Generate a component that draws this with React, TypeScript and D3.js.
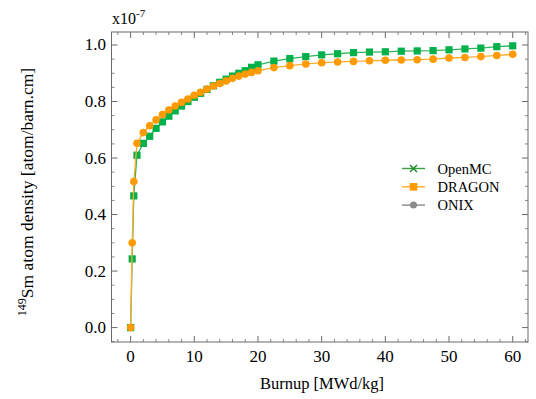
import React from "react";
import * as d3 from "d3";

const burnup = [0, 0.25, 0.5, 1, 2, 3, 4, 5, 6, 7, 8, 9, 10, 11, 12, 13, 14, 15, 16, 17, 18, 19, 20, 22.5, 25, 27.5, 30, 32.5, 35, 37.5, 40, 42.5, 45, 47.5, 50, 52.5, 55, 57.5, 60];
const openmc = [0, 0.243, 0.466, 0.61, 0.652, 0.677, 0.705, 0.728, 0.748, 0.767, 0.784, 0.8, 0.815, 0.829, 0.843, 0.856, 0.868, 0.879, 0.89, 0.9, 0.909, 0.921, 0.93, 0.943, 0.952, 0.959, 0.965, 0.969, 0.973, 0.975, 0.976, 0.978, 0.979, 0.98, 0.983, 0.986, 0.989, 0.994, 0.997];
const dragon = [0, 0.3, 0.517, 0.652, 0.69, 0.714, 0.735, 0.754, 0.77, 0.784, 0.797, 0.809, 0.822, 0.833, 0.844, 0.855, 0.864, 0.873, 0.882, 0.89, 0.897, 0.903, 0.909, 0.92, 0.927, 0.933, 0.937, 0.94, 0.942, 0.944, 0.946, 0.947, 0.948, 0.95, 0.954, 0.956, 0.959, 0.963, 0.967];
const xTicks = [0, 10, 20, 30, 40, 50, 60];
const yTicks = [0, 0.2, 0.4, 0.6, 0.8, 1.0];
const legendLabels = ["OpenMC", "DRAGON", "ONIX"];

const W = 536, H = 399;
const FONT = "'Liberation Serif', 'DejaVu Serif', serif";
const GREEN = "#00b04a";
const GREEN_LINE = "#33b35c";
const ORANGE = "#ff9a00";
const ORANGE_LINE = "#ffab2e";
const GRAY = "#8a8a8a";
const FRAME = "#6a6a6a";

export default function App() {
  const x = d3.scaleLinear().domain([-3, 62.4]).range([111.5, 528]);
  const y = d3.scaleLinear().domain([-0.051, 1.046]).range([342, 32]);
  const [x0, x1] = x.range();
  const [y0, y1] = y.range();

  const line = d3.line<number>().x((_, i) => x(burnup[i])).y((d) => y(d));

  const xMinor = d3.range(-2, 63, 2).filter((v) => v % 10 !== 0);
  const yMinor = d3.range(-0.05, 1.04, 0.05).map((v) => +v.toFixed(2)).filter((v) => Math.abs((v * 10) % 2) > 0.01 && Math.abs((v * 10) % 2 - 2) > 0.01);

  const MAJ = 6, MIN = 3;

  return (
    <svg width={W} height={H} style={{ position: "absolute", left: 0, top: 0, background: "#fff" }} fontFamily={FONT}>
      <rect x={x0} y={y1} width={x1 - x0} height={y0 - y1} fill="none" stroke={FRAME} strokeWidth={1} />
      {xTicks.map((t) => (
        <g key={"xt" + t}>
          <line x1={x(t)} x2={x(t)} y1={y0} y2={y0 - MAJ} stroke={FRAME} />
          <line x1={x(t)} x2={x(t)} y1={y1} y2={y1 + MAJ} stroke={FRAME} />
          <text x={x(t)} y={362} textAnchor="middle" fontSize={17} fill="#000">{t}</text>
        </g>
      ))}
      {xMinor.map((t) => (
        <g key={"xm" + t}>
          <line x1={x(t)} x2={x(t)} y1={y0} y2={y0 - MIN} stroke={FRAME} strokeWidth={0.8} />
          <line x1={x(t)} x2={x(t)} y1={y1} y2={y1 + MIN} stroke={FRAME} strokeWidth={0.8} />
        </g>
      ))}
      {yTicks.map((t) => (
        <g key={"yt" + t}>
          <line x1={x0} x2={x0 + MAJ} y1={y(t)} y2={y(t)} stroke={FRAME} />
          <line x1={x1} x2={x1 - MAJ} y1={y(t)} y2={y(t)} stroke={FRAME} />
          <text x={106} y={y(t) + 5.5} textAnchor="end" fontSize={17} fill="#000">{t.toFixed(1)}</text>
        </g>
      ))}
      {yMinor.map((t) => (
        <g key={"ym" + t}>
          <line x1={x0} x2={x0 + MIN} y1={y(t)} y2={y(t)} stroke={FRAME} strokeWidth={0.8} />
          <line x1={x1} x2={x1 - MIN} y1={y(t)} y2={y(t)} stroke={FRAME} strokeWidth={0.8} />
        </g>
      ))}
      <text x={112} y={24} fontSize={16} fill="#000">
        x10<tspan dy={-7} fontSize={11}>-7</tspan>
      </text>
      <text x={322} y={389} textAnchor="middle" fontSize={16.5} fill="#000">Burnup [MWd/kg]</text>
      <text transform={`translate(33, 192) rotate(-90)`} textAnchor="middle" fontSize={17.5} fill="#000">
        <tspan dy={-7} fontSize={12}>149</tspan>
        <tspan dy={7}>Sm atom density [atom/barn.cm]</tspan>
      </text>
      <path d={line(openmc) || ""} fill="none" stroke={GREEN_LINE} strokeWidth={1.3} />
      {openmc.map((v, i) => (
        <rect key={"g" + i} x={x(burnup[i]) - 3.6} y={y(v) - 3.6} width={7.2} height={7.2} fill={GREEN} />
      ))}
      <path d={line(dragon) || ""} fill="none" stroke={ORANGE_LINE} strokeWidth={1.3} />
      {dragon.map((v, i) => (
        <circle key={"o" + i} cx={x(burnup[i])} cy={y(v)} r={3.8} fill={ORANGE} />
      ))}
      {legendLabels.map((lab, i) => {
        const cy = 168.5 + i * 18.3;
        const lx0 = 402, lx1 = 425, mx = 413.5;
        const col = i === 0 ? "#3aa040" : i === 1 ? ORANGE_LINE : GRAY;
        return (
          <g key={lab}>
            <line x1={lx0} x2={lx1} y1={cy} y2={cy} stroke={col} strokeWidth={1.4} />
            {i === 0 && (
              <g stroke="#1f8a2a" strokeWidth={1.5}>
                <line x1={mx - 3.5} x2={mx + 3.5} y1={cy - 3.5} y2={cy + 3.5} />
                <line x1={mx - 3.5} x2={mx + 3.5} y1={cy + 3.5} y2={cy - 3.5} />
              </g>
            )}
            {i === 1 && <rect x={mx - 3.8} y={cy - 3.8} width={7.6} height={7.6} fill={ORANGE} />}
            {i === 2 && <circle cx={mx} cy={cy} r={3.5} fill={GRAY} />}
            <text x={437.5} y={cy + 5} fontSize={14.5} fill="#000">{lab}</text>
          </g>
        );
      })}
    </svg>
  );
}
